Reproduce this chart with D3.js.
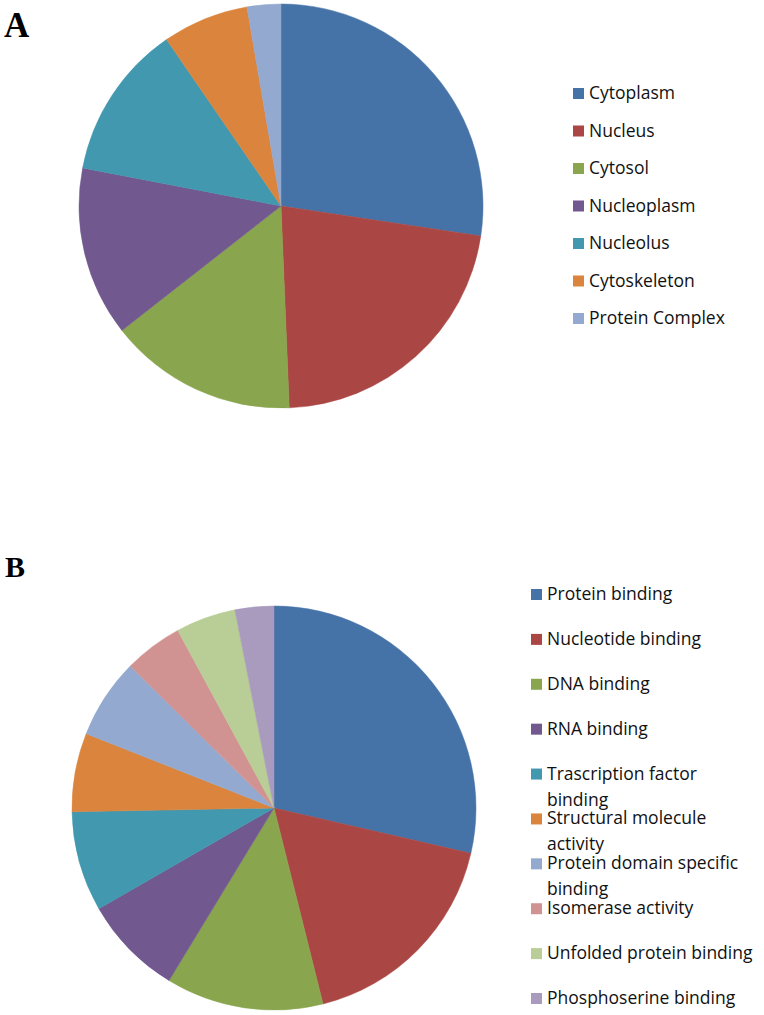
<!DOCTYPE html>
<html>
<head>
<meta charset="utf-8">
<script src="https://cdn.jsdelivr.net/npm/d3@7"></script>
<style>
  body { margin: 0; background: #fff; }
</style>
</head>
<body>
<svg id="chart"></svg>
<script>
// panel A: cellular component
var compCategories = ['Cytoplasm', 'Nucleus', 'Cytosol', 'Nucleoplasm', 'Nucleolus', 'Cytoskeleton', 'Protein Complex'];
var compValues = [27.4, 22.0, 15.1, 13.6, 12.4, 6.9, 2.7];

// panel B: molecular function
var funcCategories = ['Protein binding', 'Nucleotide binding', 'DNA binding', 'RNA binding',
  'Trascription factor binding', 'Structural molecule activity', 'Protein domain specific binding',
  'Isomerase activity', 'Unfolded protein binding', 'Phosphoserine binding'];
var funcValues = [28.6, 17.5, 12.6, 8.0, 8.0, 6.3, 6.4, 4.7, 4.8, 3.1];
// legend lines (wrapped the way the original legend wraps them)
var funcLabelLines = [['Protein binding'], ['Nucleotide binding'], ['DNA binding'], ['RNA binding'],
  ['Trascription factor', 'binding'], ['Structural molecule', 'activity'], ['Protein domain specific', 'binding'],
  ['Isomerase activity'], ['Unfolded protein binding'], ['Phosphoserine binding']];

var colors = ['#4572A7', '#AA4643', '#89A54E', '#71588F', '#4198AF', '#DB843D', '#93A9CF', '#D19392', '#B9CD96', '#A99BBD'];

var width = 764, height = 1015;

var svg = d3.select('#chart')
  .attr('width', width)
  .attr('height', height);

var radius = 202;

var pie = d3.pie().sort(null).value(function (d) { return d; });
var arc = d3.arc().innerRadius(0).outerRadius(radius);

function drawPie(values, cx, cy) {
  var g = svg.append('g')
    .attr('transform', 'translate(' + cx + ',' + cy + ')');
  g.selectAll('path')
    .data(pie(values))
    .enter()
    .append('path')
    .attr('d', arc)
    .attr('fill', function (d, i) { return colors[i]; })
    .attr('stroke', function (d, i) { return colors[i]; })
    .attr('stroke-width', 0.5);
}

drawPie(compValues, 281, 206);
drawPie(funcValues, 274, 808);

// panel letters
svg.append('text')
  .attr('x', 4).attr('y', 37)
  .style('font-family', '"Liberation Serif", "Times New Roman", serif')
  .style('font-weight', 'bold')
  .style('font-size', '35px')
  .text('A');

svg.append('text')
  .attr('x', 5).attr('y', 577)
  .style('font-family', '"Liberation Serif", "Times New Roman", serif')
  .style('font-weight', 'bold')
  .style('font-size', '30px')
  .text('B');

var legendFont = '"Open Sans", "DejaVu Sans", sans-serif';

// legend A
var legA = svg.append('g');
var rowA = d3.scalePoint().domain(compCategories).range([93, 318]);
compCategories.forEach(function (c, i) {
  legA.append('rect')
    .attr('x', 573).attr('y', rowA(c) - 5)
    .attr('width', 11).attr('height', 11)
    .attr('fill', colors[i]);
  legA.append('text')
    .attr('x', 589).attr('y', rowA(c) + 6)
    .style('font-family', legendFont)
    .style('font-size', '17.5px')
    .style('fill', '#111')
    .text(c);
});

// legend B
var legB = svg.append('g');
var rowB = d3.scalePoint().domain(funcCategories).range([594, 998]);
funcCategories.forEach(function (c, i) {
  legB.append('rect')
    .attr('x', 531).attr('y', rowB(c) - 5)
    .attr('width', 11).attr('height', 11)
    .attr('fill', colors[i]);
  var t = legB.append('text')
    .attr('x', 547).attr('y', rowB(c) + 6)
    .style('font-family', legendFont)
    .style('font-size', '17.5px')
    .style('fill', '#111');
  funcLabelLines[i].forEach(function (line, j) {
    t.append('tspan')
      .attr('x', 547)
      .attr('dy', j === 0 ? 0 : 26)
      .text(line);
  });
});
</script>
</body>
</html>
